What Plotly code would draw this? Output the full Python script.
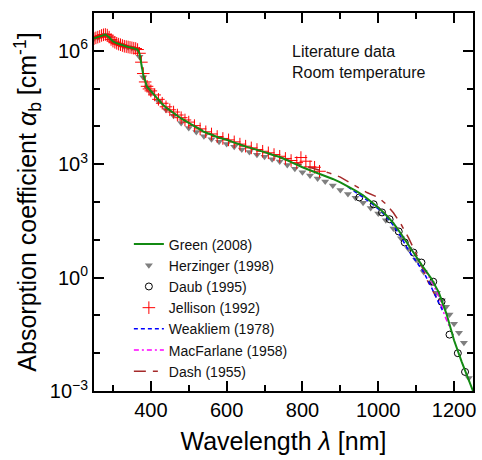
import plotly.graph_objects as go

# ---------------- data ----------------
green_wl = [250, 260, 270, 280, 290, 300, 310, 320, 330, 340, 350, 360, 365, 370, 375, 380, 390,
            400, 410, 420, 430, 440, 450, 460, 470, 480, 490, 500, 520, 540, 560, 580, 600, 620,
            640, 660, 680, 700, 720, 740, 760, 780, 800, 820, 840, 860, 880, 900, 920, 940, 960,
            980, 1000, 1020, 1040, 1060, 1080, 1100, 1120, 1140, 1160, 1180, 1200, 1220, 1240, 1250]
green_alpha = [2.14e6, 2.29e6, 2.51e6, 2.69e6, 2.29e6, 1.78e6, 1.58e6, 1.45e6, 1.32e6, 1.26e6,
               1.20e6, 1.15e6, 1.08e6, 8.6e5, 4.8e5, 2.3e5, 1.12e5,
               8.5e4, 6.6e4, 5.0e4, 3.9e4, 3.16e4, 2.63e4, 2.29e4, 1.91e4, 1.62e4, 1.41e4, 1.23e4,
               9.5e3, 7.2e3, 6.0e3, 5.0e3, 4.4e3, 3.7e3, 3.16e3, 2.75e3, 2.34e3, 2.09e3, 1.78e3,
               1.55e3, 1.26e3, 1.0e3, 832, 692, 589, 501, 407, 331, 263, 200, 151, 105, 72, 46,
               27.5, 14.5, 7.2, 3.5, 1.8, 0.95, 0.40, 0.11, 0.022, 0.006, 0.0019, 0.001]

herz_wl = [250, 260, 270, 280, 290, 300, 310, 320, 330, 340, 350, 360, 370, 380, 390,
           400, 420, 440, 460, 480, 500, 520, 540, 560, 580, 600, 620, 640, 660, 680, 700,
           720, 740, 760, 780, 800, 820, 840, 860, 880, 900, 920, 940, 960, 980, 1000, 1020,
           1040, 1060, 1080, 1100, 1120, 1140, 1155, 1168, 1179, 1188, 1200, 1213, 1226, 1239]
herz_alpha = [2.1e6, 2.25e6, 2.5e6, 2.65e6, 2.25e6, 1.75e6, 1.55e6, 1.42e6, 1.3e6, 1.24e6,
              1.18e6, 1.12e6, 7.0e5, 2.0e5, 1.05e5,
              7.9e4, 4.6e4, 2.75e4, 1.9e4, 1.23e4, 9.1e3, 7.1e3, 5.5e3, 4.6e3, 3.9e3, 3.4e3,
              2.9e3, 2.45e3, 2.1e3, 1.78e3, 1.58e3, 1.35e3, 1.17e3, 955, 760, 617, 501, 417,
              347, 275, 209, 162, 129, 95, 69, 50, 33, 20, 11, 5.75, 2.95, 1.41, 0.71, 0.40,
              0.25, 0.17, 0.105, 0.060, 0.035, 0.019, 0.0022]

daub_wl = [950, 988, 1010, 1030, 1054, 1070, 1093, 1114, 1145, 1167, 1188, 1210, 1229]
daub_alpha = [132, 87, 53, 35, 16.6, 8.5, 4.6, 2.5, 0.78, 0.23, 0.031, 0.010, 0.0032]

jell_wl = [250, 255, 260, 265, 270, 275, 280, 285, 290, 295, 300, 305, 310, 315, 320, 325,
           330, 335, 340, 345, 350, 355, 360, 365, 370, 375, 380, 385, 390, 395, 400, 410,
           420, 430, 440, 450, 460, 470, 480, 490, 500, 515, 530, 545, 560, 575, 590, 605,
           620, 635, 650, 665, 680, 695, 710, 725, 740, 755, 770, 785, 796, 809, 820, 832, 845]
jell_alpha = [2.10e6, 2.2e6, 2.3e6, 2.4e6, 2.55e6, 2.65e6, 2.7e6, 2.6e6, 2.3e6, 2.0e6, 1.8e6,
              1.68e6, 1.58e6, 1.5e6, 1.45e6, 1.38e6, 1.32e6, 1.29e6, 1.26e6, 1.23e6, 1.2e6,
              1.17e6, 1.15e6, 1.08e6, 8.6e5, 5.0e5, 2.5e5, 1.5e5, 1.15e5, 9.8e4, 8.7e4, 6.8e4,
              5.2e4, 4.1e4, 3.3e4, 2.75e4, 2.4e4, 2.0e4, 1.7e4, 1.48e4, 1.3e4, 1.05e4, 8.6e3,
              7.2e3, 6.3e3, 5.4e3, 4.8e3, 4.4e3, 3.9e3, 3.4e3, 3.0e3, 2.7e3, 2.45e3, 2.2e3,
              2.0e3, 1.8e3, 1.62e3, 1.42e3, 1.25e3, 1.1e3, 1.5e3, 1.2e3, 8.5e2, 8.3e2, 6.5e2]

weak_wl = [920, 950, 980, 1000, 1020, 1040, 1060, 1080, 1100, 1120, 1140, 1160, 1172]
weak_alpha = [251, 158, 95, 66, 42, 24, 12, 5.2, 2.6, 1.38, 0.56, 0.20, 0.12]

macf_wl = [1000, 1020, 1040, 1060, 1080, 1100, 1120, 1140, 1160, 1175, 1190]
macf_alpha = [74, 47, 28, 14.8, 7.4, 3.6, 1.78, 0.83, 0.32, 0.10, 0.045]

dash_wl = [385, 400, 450, 500, 550, 600, 650, 700, 750, 800, 840, 870, 900, 930, 970, 1000,
           1020, 1040, 1060, 1080, 1095, 1110, 1130, 1153]
dash_alpha = [1.26e5, 8.5e4, 2.6e4, 1.23e4, 6.8e3, 4.5e3, 3.0e3, 2.1e3, 1.45e3, 930, 725, 590,
              457, 302, 178, 132, 89, 52, 26, 11.2, 5.5, 2.6, 0.83, 0.30]

x_major = [400, 600, 800, 1000, 1200]
x_minor = [300, 500, 700, 900, 1100]
y_major = [1e-3, 1e0, 1e3, 1e6]
y_major_text = ["10<sup>\u22123</sup>", "10<sup>0</sup>", "10<sup>3</sup>", "10<sup>6</sup>"]
y_minor = [1e-2, 1e-1, 1e1, 1e2, 1e4, 1e5]

FONT = "Liberation Sans, Arial, sans-serif"

fig = go.Figure()

fig.add_trace(go.Scatter(x=herz_wl, y=herz_alpha, mode="markers", name="Herzinger (1998)",
                         legendrank=2,
                         marker=dict(symbol="triangle-down", size=7, color="#7f7f7f",
                                     line=dict(width=0))))
fig.add_trace(go.Scatter(x=daub_wl, y=daub_alpha, mode="markers", name="Daub (1995)",
                         legendrank=3,
                         marker=dict(symbol="circle-open", size=7, color="black",
                                     line=dict(width=1, color="black"))))
fig.add_trace(go.Scatter(x=jell_wl, y=jell_alpha, mode="markers", name="Jellison (1992)",
                         legendrank=4,
                         marker=dict(symbol="cross-thin", size=9, color="red",
                                     line=dict(width=1, color="red"))))
fig.add_trace(go.Scatter(x=dash_wl, y=dash_alpha, mode="lines", name="Dash (1955)",
                         legendrank=7,
                         line=dict(color="#a52a2a", width=1.5, dash="12px,7px,5px,7px")))
fig.add_trace(go.Scatter(x=macf_wl, y=macf_alpha, mode="lines", name="MacFarlane (1958)",
                         legendrank=6,
                         line=dict(color="#ff00ff", width=1.5, dash="5px,3px,2px,3px")))
fig.add_trace(go.Scatter(x=weak_wl, y=weak_alpha, mode="lines", name="Weakliem (1978)",
                         legendrank=5,
                         line=dict(color="#0000ff", width=1.5, dash="4px,3px")))
fig.add_trace(go.Scatter(x=green_wl, y=green_alpha, mode="lines", name="Green (2008)",
                         legendrank=1,
                         line=dict(color="#138a13", width=2)))

fig.update_layout(
    width=482, height=460,
    margin=dict(l=94, r=6, t=13, b=69),
    paper_bgcolor="white", plot_bgcolor="white",
    font=dict(family=FONT, color="black"),
    showlegend=True,
    legend=dict(x=0.092, y=0.43, xanchor="left", yanchor="top",
                bgcolor="rgba(0,0,0,0)", borderwidth=0,
                font=dict(size=14, family=FONT, color="#111"),
                tracegroupgap=0),
    annotations=[dict(x=0.518, y=0.925, xref="paper", yref="paper", xanchor="left",
                      yanchor="top", align="left", showarrow=False,
                      text="Literature data<br>Room temperature",
                      font=dict(size=16, family=FONT, color="#111"))],
)

fig.update_xaxes(
    type="linear", range=[250, 1250],
    showline=True, linecolor="black", linewidth=2, mirror="ticks",
    ticks="inside", ticklen=10, tickwidth=1.8, tickcolor="black",
    tickmode="array", tickvals=x_major, ticktext=[str(v) for v in x_major],
    minor=dict(tickmode="array", tickvals=x_minor, ticks="inside", ticklen=6,
               tickwidth=1.5, tickcolor="black", showgrid=False),
    showgrid=False, zeroline=False,
    tickfont=dict(size=20, family=FONT, color="black"),
    title=dict(text="Wavelength <i>\u03bb</i> [nm]", font=dict(size=25, family=FONT),
               standoff=12),
)
fig.update_yaxes(
    type="log", range=[-3, 7],
    showline=True, linecolor="black", linewidth=2, mirror="ticks",
    ticks="inside", ticklen=10, tickwidth=1.8, tickcolor="black",
    tickmode="array", tickvals=y_major, ticktext=y_major_text,
    minor=dict(tickmode="array", tickvals=y_minor, ticks="inside", ticklen=6,
               tickwidth=1.5, tickcolor="black", showgrid=False),
    showgrid=False, zeroline=False,
    tickfont=dict(size=20, family=FONT, color="black"),
    title=dict(text="Absorption coefficient <i>\u03b1</i><sub>b</sub> [cm<sup>-1</sup>]",
               font=dict(size=25, family=FONT), standoff=6),
)

fig.write_html("out.html")
